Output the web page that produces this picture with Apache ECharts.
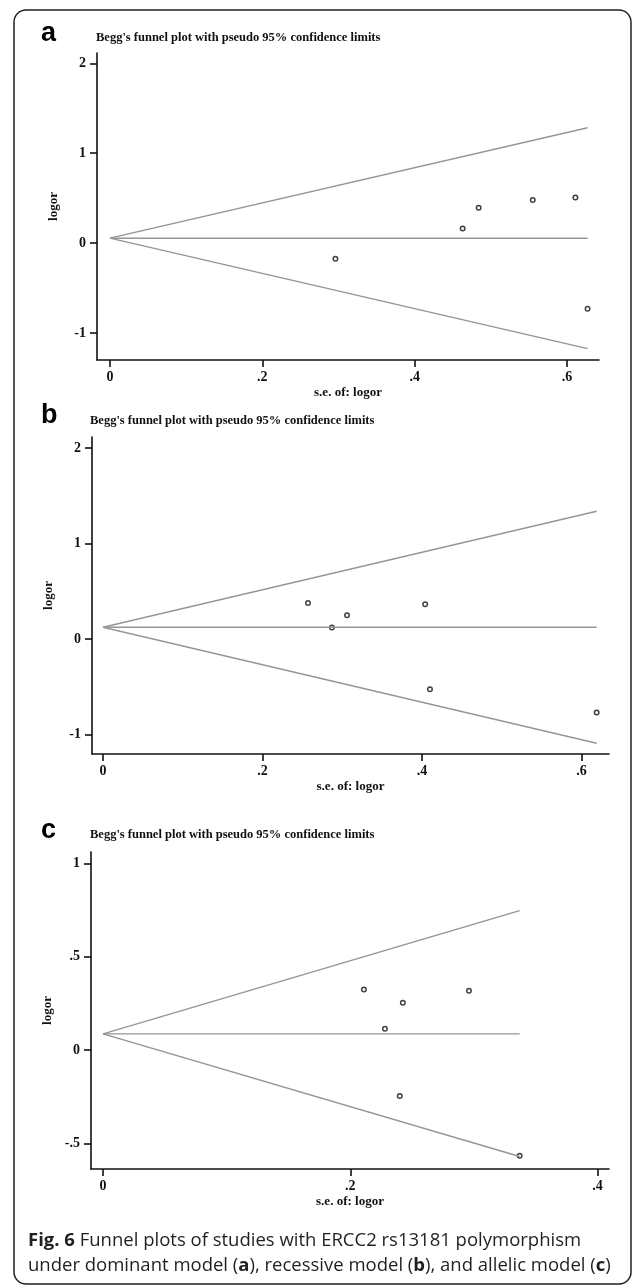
<!DOCTYPE html>
<html>
<head>
<meta charset="utf-8">
<script src="https://cdn.jsdelivr.net/npm/echarts@6/dist/echarts.min.js"></script>
<style>
    html, body { margin: 0; padding: 0; background: #fff; }
    #chart { width: 635px; height: 1286px; }
</style>
</head>
<body>
<div id="chart"></div>
<script>
    // panel a - dominant model
    const seA = [0.296, 0.463, 0.484, 0.555, 0.611, 0.627];
    const logorA = [-0.174, 0.163, 0.393, 0.481, 0.507, -0.73];
    const limitSeA = [0, 0.627];
    const upperA = [0.055, 1.284];
    const lowerA = [0.055, -1.174];
    const pooledA = [0.055, 0.055];

    // panel b - recessive model
    const seB = [0.257, 0.287, 0.306, 0.404, 0.410, 0.619];
    const logorB = [0.380, 0.122, 0.251, 0.366, -0.523, -0.767];
    const limitSeB = [0, 0.619];
    const upperB = [0.125, 1.338];
    const lowerB = [0.125, -1.088];
    const pooledB = [0.125, 0.125];

    // panel c - allelic model
    const seC = [0.211, 0.228, 0.240, 0.2425, 0.296, 0.337];
    const logorC = [0.325, 0.115, -0.246, 0.254, 0.318, -0.566];
    const limitSeC = [0, 0.337];
    const upperC = [0.087, 0.748];
    const lowerC = [0.087, -0.57];
    const pooledC = [0.087, 0.087];

    const xTicksAB = [0, 0.2, 0.4, 0.6];
    const xTicksC = [0, 0.2, 0.4];
    const yTicksAB = [-1, 0, 1, 2];
    const yTicksC = [-0.5, 0, 0.5, 1];

    const panelLetters = ['a', 'b', 'c'];
    const titleText = "Begg's funnel plot with pseudo 95% confidence limits";

    const ink = '#111';
    const funnelGray = '#959595';
    const serif = 'Liberation Serif';

    const stataLabel = v => String(v).replace('0.', '.');

    const panels = [
        {se: seA, logor: logorA, lim: limitSeA, up: upperA, low: lowerA, pool: pooledA,
            xt: xTicksAB, yt: yTicksAB, grid: {left: 97, top: 53, width: 502, height: 307},
            xr: [-0.017, 0.642], yr: [-1.30, 2.115]},
        {se: seB, logor: logorB, lim: limitSeB, up: upperB, low: lowerB, pool: pooledB,
            xt: xTicksAB, yt: yTicksAB, grid: {left: 92, top: 437, width: 517, height: 317},
            xr: [-0.0138, 0.6345], yr: [-1.2, 2.115]},
        {se: seC, logor: logorC, lim: limitSeC, up: upperC, low: lowerC, pool: pooledC,
            xt: xTicksC, yt: yTicksC, grid: {left: 91, top: 852, width: 518, height: 317},
            xr: [-0.0098, 0.4093], yr: [-0.637, 1.062]}
    ];

    const pair = (xs, ys) => xs.map((x, i) => [x, ys[i]]);

    let grid = [], xAxis = [], yAxis = [], series = [];
    panels.forEach((p, i) => {
        grid.push(p.grid);
        const lineStyle = {color: ink, width: 1.6};
        const labelStyle = {color: ink, fontFamily: serif, fontWeight: 'bold', fontSize: 14};
        const nameStyle = {color: ink, fontFamily: serif, fontWeight: 'bold', fontSize: 13};
        xAxis.push({
            gridIndex: i, type: 'value', min: p.xr[0], max: p.xr[1],
            name: 's.e. of: logor', nameLocation: 'middle', nameGap: 26,
            nameTextStyle: nameStyle,
            axisLine: {show: true, onZero: false, lineStyle},
            axisTick: {show: true, length: 7, lineStyle, customValues: p.xt},
            axisLabel: Object.assign({margin: 10, customValues: p.xt, formatter: stataLabel}, labelStyle),
            splitLine: {show: false}
        });
        yAxis.push({
            gridIndex: i, type: 'value', min: p.yr[0], max: p.yr[1],
            name: 'logor', nameLocation: 'middle', nameGap: 37, nameRotate: 90,
            nameTextStyle: nameStyle,
            axisLine: {show: true, onZero: false, lineStyle},
            axisTick: {show: true, length: 7, lineStyle, customValues: p.yt},
            axisLabel: Object.assign({margin: 11, customValues: p.yt, formatter: stataLabel}, labelStyle),
            splitLine: {show: false}
        });
        const funnel = {type: 'line', xAxisIndex: i, yAxisIndex: i, symbol: 'none', silent: true,
            lineStyle: {color: funnelGray, width: 1.4}};
        series.push(Object.assign({data: pair(p.lim, p.up)}, funnel));
        series.push(Object.assign({data: pair(p.lim, p.low)}, funnel));
        series.push(Object.assign({data: pair(p.lim, p.pool)}, funnel));
        series.push({
            type: 'scatter', xAxisIndex: i, yAxisIndex: i,
            data: pair(p.se, p.logor),
            symbol: 'circle', symbolSize: 4.5,
            itemStyle: {color: '#fff', borderColor: ink, borderWidth: 1.5}
        });
    });

    const letterY = [34, 416, 831];
    const titlePos = [[96, 38], [90, 421], [90, 835]];
    let graphic = [{
        type: 'rect', silent: true,
        shape: {x: 14, y: 10, width: 617, height: 1274, r: 12},
        style: {fill: 'none', stroke: '#222', lineWidth: 1.5}
    }];
    panelLetters.forEach((l, i) => {
        graphic.push({
            type: 'text', x: 41, y: letterY[i],
            style: {text: l, font: 'bold 27px "Liberation Sans"', fill: '#000', textVerticalAlign: 'middle'}
        });
        graphic.push({
            type: 'text', x: titlePos[i][0], y: titlePos[i][1],
            style: {text: titleText, font: 'bold 12.5px "Liberation Serif"', fill: ink, textVerticalAlign: 'middle'}
        });
    });
    graphic.push({
        type: 'text', x: 28, y: 1228,
        style: {
            text: '{b|Fig. 6} Funnel plots of studies with ERCC2 rs13181 polymorphism\n' +
                'under dominant model ({b|a}), recessive model ({b|b}), and allelic model ({b|c})',
            font: '18.5px "Open Sans"', fill: '#231f20', lineHeight: 25,
            rich: {b: {fontWeight: 'bold', fontFamily: 'Open Sans', fontSize: 18.5, fill: '#231f20'}}
        }
    });

    let myChart = echarts.init(document.getElementById('chart'));
    myChart.setOption({
        animation: false,
        backgroundColor: '#fff',
        grid: grid,
        xAxis: xAxis,
        yAxis: yAxis,
        series: series,
        graphic: graphic
    });
</script>
</body>
</html>
